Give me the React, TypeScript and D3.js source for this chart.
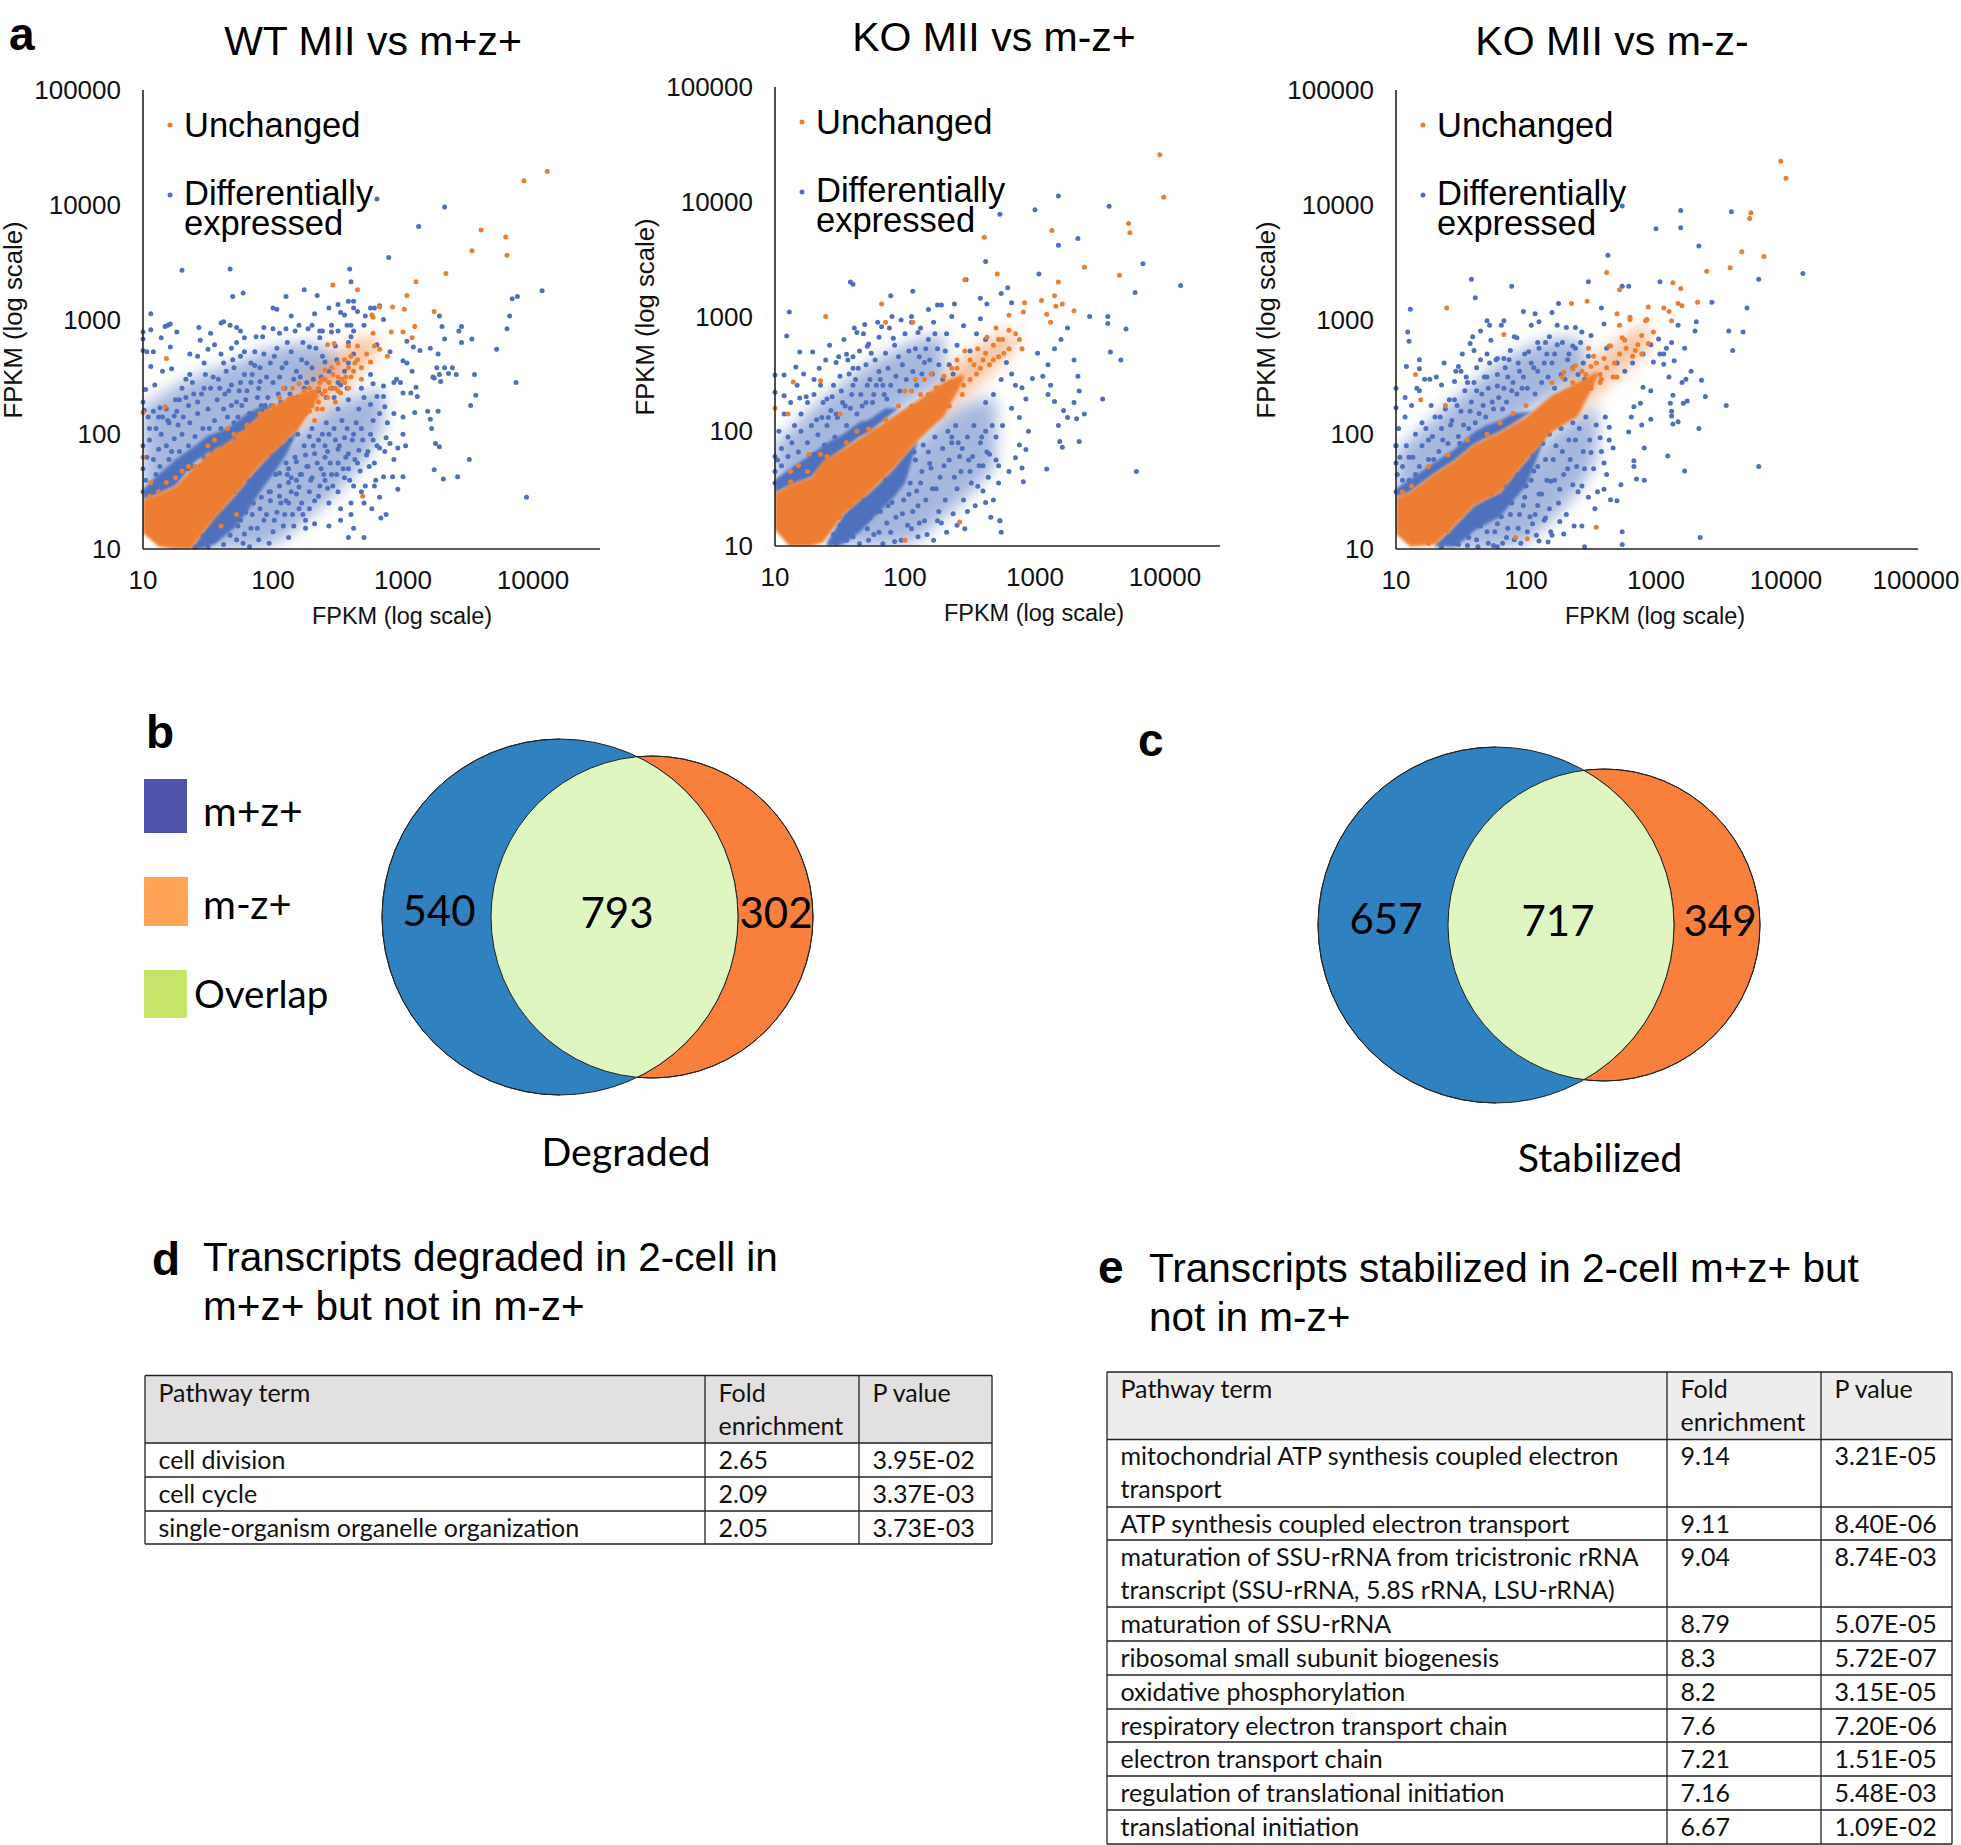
import React from "react";
import * as d3 from "d3";

// log10(FPKM) x 100, flat x,y pairs
const p1Blue = [280,405,332,398,312,381,289,354,130,343,167,344,259,344,260,333,224,326,177,323,169,320,210,320,234,321,407,325,388,320,384,318,382,303,380,292,372,274,353,283,355,252,387,245,356,234,352,225,395,145,351,178,342,163,331,161,324,169,325,192,328,189,
328,303,330,294,345,294,343,290,332,283,345,280,308,276,313,273,303,281,321,275,327,270,303,262,307,255,326,258,332,258,338,258,323,250,328,252,341,252,335,253,329,246,324,249,306,236,298,245,310,241,311,233,327,220,319,220,321,213,322,205,309,219,300,215,
271,303,275,310,278,310,282,312,285,300,262,316,258,316,262,310,243,310,252,306,265,307,270,295,257,295,245,289,238,290,230,295,236,284,228,276,260,285,248,277,262,270,280,278,290,272,300,264,258,262,275,252,285,242,295,248,268,240,277,244,285,233,293,245,300,236,270,232,275,226,280,233,282,218,286,224,293,218,288,210,277,212,266,222,258,230,250,222,
300,200,302,190,296,188,290,192,287,197,286,185,282,188,293,178,275,200,268,205,262,200,255,197,248,195,243,200,235,195,228,198,240,190,250,187,258,183,266,186,272,182,278,175,265,175,258,170,250,175,240,180,232,183,225,182,218,176,227,172,237,170,245,165,255,162,262,155,268,150,250,150,242,153,240,160,230,162,222,165,212,170,205,166,212,158,220,154,228,150,235,146,243,140,252,135,260,140,270,140,276,135,260,130,252,125,243,120,285,163,292,163,300,163,296,152,278,155,282,145,287,130,283,127,262,118,258,110,270,110,232,122,225,125,220,135,212,140,205,146,198,150,
150,102,155,108,160,115,162,104,168,120,172,108,175,125,178,113,182,102,184,130,188,118,190,135,193,125,197,105,198,142,200,115,203,132,205,155,208,120,210,142,212,110,215,130,218,148,180,140,186,150,192,160,196,168,200,175,204,182,210,175,214,162,218,160,222,140,225,118,228,135,232,142,150,115,145,105,155,122,165,130,170,138,176,148,140,102,
100,150,102,160,100,170,103,180,100,190,105,195,108,178,110,165,112,187,114,200,113,172,118,162,118,190,120,178,123,170,124,196,127,208,128,185,130,200,133,175,135,190,136,210,138,172,140,198,142,218,143,183,146,205,148,190,150,222,152,196,155,212,157,230,160,205,162,222,165,215,166,238,170,210,172,228,175,245,176,225,180,238,182,218,184,252,188,232,190,246,194,225,
112,215,118,222,125,230,130,240,135,225,138,245,145,235,148,252,152,240,158,248,162,262,168,243,170,258,175,268,178,252,183,262,186,272,190,258,193,270,198,262,203,275,205,250,210,262,214,272,218,255,222,265,226,245,230,258,237,250,240,263,245,240,250,245,
106,305,106,291,100,289,100,283,100,273,103,272,108,272,114,284,119,295,117,294,121,296,126,289,121,276,106,259,115,255,122,257,109,243,102,239,100,228,101,221,104,215,108,220,113,223,119,212,124,216,128,230,133,248,136,252,136,270,143,293,144,282,142,268,147,262,150,274,152,288,160,297,162,298,167,295,172,293,175,290,178,284,155,278,160,270,168,275,172,280,187,285,193,293,200,310,203,309,200,292,205,288,210,292,214,303,220,295,232,305,227,292,223,280,236,290,245,295,250,313,250,290,255,304,260,295,262,290,258,280,
105,205,108,150,110,205,115,215,117,145,120,210,122,185,125,165,126,220,129,175,131,215,133,232,135,170,138,180,139,235,141,160,142,228,144,172,147,180,147,240,149,170,151,205,153,185,154,250,156,195,158,180,159,240,161,190,163,235,164,255,167,200,168,225,169,265,171,195,173,215,174,238,177,205,178,272,179,230,181,210,183,245,185,215,186,260,187,205,189,240,191,225,192,285,194,215,195,250,196,232,199,225,200,245,201,268,204,235,206,228,207,258,209,240,211,280,213,235,216,248,217,290,219,232,221,250,224,240,226,262,228,232,231,248,233,275,235,238,238,268,241,232,243,255,247,232,249,265,252,243,255,255,257,240,
146,112,152,128,157,110,158,135,163,122,164,145,167,112,170,150,173,120,174,155,177,105,179,132,181,160,183,118,185,140,187,165,189,108,191,145,194,172,195,130,197,150,199,182,201,125,202,165,206,140,207,188,209,130,211,165,213,195,214,150,216,120,217,180,219,200,221,165,223,130,224,190,226,172,229,160,230,205,231,190,234,175,236,155,238,200,239,165,241,210,242,185,244,175,246,155,247,205,249,165,251,190,253,212,254,170,256,180,257,205,259,160,261,195,263,178,264,210,267,168,269,195,271,155,273,185,274,172,277,195,279,160,280,190];
const p1Orange = [411,429,393,421,360,378,379,372,353,360,380,356,333,340,310,333,246,330,265,326,303,321,292,311,301,309,282,311,276,304,277,302,324,307,309,294,300,289,291,289,277,288,307,284,247,279,242,278,282,274,278,277,288,268,258,277,265,277,275,263,269,146,118,266,117,224,100,219,
265,265,260,268,255,265,250,262,245,258,240,256,258,258,250,250,243,245,238,248,235,240,262,255,268,248,255,245,248,240,240,238,230,236,225,228,228,240,222,233,215,232,218,222,210,225,205,218,212,212,216,205,222,215,228,220,232,212,238,222,242,232,248,228,252,236,258,240,235,228,100,180,106,158,118,158,130,168,135,172,150,190,165,205,174,200,160,120,172,130,
205,232,208,240,212,230,215,240,218,210,220,244,224,238,226,222,230,225,234,222,236,245,238,235,240,248,244,240,246,252,250,238,253,248,256,250,260,250,263,262,268,258,272,270,195,220,200,225,190,218,180,208,170,200,155,195,140,172,125,162,112,150,105,146,110,115,120,105,135,105,148,125,155,135,175,155,190,180,205,192,215,205,225,218];
const p1BandX = [100,112,125,137,150,170,190,205,220,235];
const p1BandHigh = [143,148,155,169,183,196,217,228,235,240];
const p1BandLow = [114,102,100,100,120,146,173,189,205,232];
const p1CoreX = [137,145,155,170,180,190,200,210,220];
const p1CoreLow = [100,100,104,118,132,150,165,182,205];
const p1CoreHigh = [100,113,128,146,160,173,185,195,205];
const p1UpperX = [100,110,125,140,150,165,180,190,200];
const p1UpperLow = [143,147,155,176,183,191,205,215,225];
const p1UpperHigh = [152,163,178,190,199,205,218,224,225];
const p1WashUpX = [100,115,130,150,170,190,210,230,250];
const p1WashUpLow = [143,150,160,183,195,215,228,240,255];
const p1WashUpHigh = [225,235,245,255,262,272,278,280,270];
const p1WashDownX = [140,150,170,190,210,230,250,270,285];
const p1WashDownLow = [100,100,100,100,110,130,150,175,205];
const p1WashDownHigh = [100,120,146,173,195,212,228,235,240];
const p1WashOrangeX = [215,240,260,280];
const p1WashOrangeLow = [205,225,245,270];
const p1WashOrangeHigh = [235,262,280,288];

const p2Blue = [318,405,357,396,300,393,273,389,333,368,318,362,262,348,303,337,383,346,412,327,377,321,247,332,158,330,160,328,279,325,274,320,206,322,189,318,258,316,238,311,225,310,263,311,282,312,111,304,109,283,342,300,356,300,356,294,370,289,358,269,366,262,352,228,334,235,338,215,332,211,334,191,319,191,321,186,378,165,309,167,274,112,273,122,293,184,288,188,285,177,290,168,291,156,
100,155,100,165,102,175,105,185,108,160,110,178,113,190,116,168,118,182,120,200,122,172,125,190,128,205,130,180,133,197,136,212,138,188,140,205,143,218,146,195,148,212,152,225,155,205,158,220,160,240,163,215,166,232,170,225,173,245,176,232,180,252,183,240,186,228,100,234,100,249,107,249,107,231,119,229,124,230,119,269,129,269,116,256,
130,232,135,240,140,228,145,240,150,248,156,262,160,255,165,270,170,258,172,276,177,262,180,282,185,268,188,290,192,275,195,265,200,285,205,300,208,272,212,290,215,260,218,280,222,295,225,272,228,310,232,285,236,300,240,275,245,292,250,270,255,285,258,298,262,280,147,260,155,267,160,265,163,286,169,293,171,274,182,291,191,281,197,297,205,295,210,286,218,306,
262,225,268,232,274,245,278,260,282,250,285,240,290,238,293,228,298,246,302,268,310,258,315,272,320,280,325,290,330,262,333,248,310,232,315,226,322,218,325,212,330,225,318,205,312,240,306,248,295,200,288,212,282,220,275,205,270,195,262,200,258,190,265,180,272,170,280,165,272,155,260,170,252,178,244,185,236,195,
145,110,150,118,155,105,158,128,162,115,166,135,170,122,172,105,175,142,178,130,180,112,184,150,186,120,190,138,192,104,195,155,198,128,200,165,203,145,205,115,208,175,210,135,212,155,215,122,218,182,220,168,224,150,226,130,230,170,232,112,236,190,238,160,242,178,245,140,250,165,256,152,262,138,266,125,273,122,248,130,240,118,228,120,222,105,210,108,
100,178,103,200,105,170,107,215,110,195,112,225,115,205,117,240,120,215,122,250,125,225,127,178,130,245,132,210,134,255,137,225,139,262,141,212,142,275,144,230,147,215,149,265,151,235,153,280,154,222,157,250,159,232,161,290,162,245,164,255,167,222,168,285,171,240,174,268,175,225,178,240,179,295,181,245,184,232,187,255,189,240,190,300,193,248,196,235,198,258,201,245,203,270,206,252,209,240,211,265,213,250,216,272,219,262,221,250,223,285,226,258,229,245,231,270,234,258,237,250,
147,102,152,112,157,120,160,108,163,128,165,102,168,140,171,115,173,125,176,110,179,145,181,130,183,102,185,158,187,135,189,112,191,148,193,125,196,162,197,105,199,140,201,172,202,118,204,155,206,130,207,182,209,148,211,120,213,165,214,188,216,140,217,110,219,172,221,150,223,195,225,122,227,160,229,185,231,140,233,200,234,175,237,128,239,205,240,150,241,190,243,165,246,115,248,195,249,175,251,155,253,205,254,135,257,170,259,195,260,148,263,182,264,160,267,205,268,140,270,175];
const p2Orange = [396,441,399,404,372,381,373,373,313,375,261,369,338,343,365,336,271,337,246,332,318,330,315,318,305,314,321,311,292,312,316,309,330,305,280,301,291,304,309,302,312,295,182,311,185,295,139,300,206,295,114,243,135,244,100,220,110,215,242,121,200,105,
240,255,250,262,255,250,245,240,235,242,230,235,262,268,268,275,272,265,265,258,258,255,275,280,280,272,270,290,285,285,288,280,290,272,225,230,218,232,212,218,205,222,112,165,118,170,126,180,135,180,150,215,163,200,175,190,
205,235,208,245,212,232,215,245,218,220,220,250,224,238,226,225,230,248,234,222,236,255,238,238,240,262,244,232,246,270,250,245,253,258,256,272,260,262,263,282,268,262,272,280,276,268,280,288,195,222,200,235,185,210,172,202,155,190,140,178,125,165,112,156,110,112,120,104,135,108,150,125,158,135,175,155,190,172,205,195,215,205,225,222];
const p2BandX = [100,111,128,137,153,172,191,210,230,245];
const p2BandHigh = [146,153,160,174,185,199,213,227,243,250];
const p2BandLow = [114,100,100,103,128,146,167,192,213,245];
const p2CoreX = [140,148,153,165,172,185,191,200,210];
const p2CoreLow = [100,100,102,112,120,135,142,155,192];
const p2CoreHigh = [103,118,128,140,146,160,167,180,192];
const p2UpperX = [100,110,128,140,153,165,172,185,195];
const p2UpperLow = [146,152,160,174,185,195,199,211,220];
const p2UpperHigh = [158,166,180,190,198,208,210,220,220];
const p2WashUpX = [100,115,130,150,170,190,210,230];
const p2WashUpLow = [146,153,162,185,199,213,228,243];
const p2WashUpHigh = [190,205,222,240,258,270,280,285];
const p2WashDownX = [140,153,172,191,210,230,250,270];
const p2WashDownLow = [100,100,100,100,105,125,145,170];
const p2WashDownHigh = [103,128,146,167,192,213,225,230];
const p2WashOrangeX = [225,245,265,285];
const p2WashOrangeLow = [210,230,250,272];
const p2WashOrangeHigh = [240,265,280,290];

const p3Blue = [274,399,319,395,358,394,319,380,300,379,333,364,263,356,413,340,379,335,158,335,248,333,303,333,189,329,274,329,279,329,161,319,343,315,370,310,111,309,109,289,110,281,356,290,367,289,359,273,354,225,338,233,335,247,333,205,309,181,322,168,379,172,334,110,274,104,245,102,274,115,100,223,100,190,
100,150,101,165,103,180,100,190,105,172,108,190,110,160,113,180,115,200,118,172,120,190,123,205,125,178,128,198,130,215,133,185,135,205,138,222,140,192,143,212,145,230,148,198,150,220,153,238,156,205,158,228,160,245,164,218,166,235,170,250,174,228,178,242,182,222,186,250,
100,240,107,232,118,238,126,248,135,243,145,246,108,259,118,265,118,257,148,259,157,279,160,273,165,290,170,299,172,295,183,299,170,270,178,266,183,266,188,273,193,284,198,307,207,305,204,295,210,298,220,306,225,314,224,295,231,293,238,293,243,289,250,286,258,310,260,296,
150,255,155,245,162,258,168,250,172,262,178,252,184,258,190,245,194,262,198,250,202,272,206,258,210,275,214,262,218,285,222,270,228,280,232,265,238,275,244,262,209,280,216,270,236,277,
262,275,270,262,276,255,282,262,290,270,296,278,302,283,306,270,312,280,317,295,331,298,330,290,322,275,308,275,303,270,298,263,306,261,314,264,310,250,320,245,327,255,323,248,313,234,311,227,321,227,324,229,312,220,312,216,313,209,317,211,296,238,290,241,288,227,283,224,281,215,296,213,289,208,291,188,283,177,283,172,285,161,291,160,273,156,270,142,265,143,260,152,253,135,243,120,226,124,229,113,219,115,217,106,210,107,279,202,264,206,257,197,267,188,250,184,260,175,245,170,236,156,226,152,219,159,209,138,205,122,215,127,
145,105,150,112,155,103,158,120,162,108,166,128,170,115,172,135,175,103,178,122,182,140,185,110,188,130,190,148,194,118,196,105,198,138,200,155,203,128,206,168,208,112,212,148,215,178,218,135,222,160,228,185,232,170,238,195,240,150,178,102,182,105,
100,175,102,205,105,160,107,215,110,180,112,225,115,165,116,240,120,210,122,248,125,195,127,225,129,178,131,250,134,215,136,195,137,262,141,230,142,208,146,255,147,225,149,192,151,270,152,208,154,250,157,220,159,285,161,210,162,238,165,265,167,225,169,215,171,240,173,282,175,222,177,265,179,232,181,295,183,240,185,228,187,265,189,238,191,285,193,235,195,255,197,240,199,270,201,240,204,262,207,235,209,255,212,245,215,280,217,250,220,262,222,240,224,278,227,252,230,248,233,270,236,258,240,252,242,280,245,248,248,268,
135,102,140,110,148,104,152,120,156,110,160,128,163,102,165,120,168,135,171,105,173,148,176,115,179,145,181,128,184,155,186,118,189,140,191,108,193,165,195,130,197,178,199,145,201,115,204,160,205,182,207,130,209,172,210,148,213,192,214,125,216,160,218,200,220,112,221,178,223,190,225,140,227,205,229,165,231,130,233,195,234,178,236,210,237,120,239,172,241,205,243,155,244,185,246,215,248,145,249,195,252,170,254,208,255,150,258,185,261,215,262,165,264,195];
const p3Orange = [396,438,400,423,373,393,372,388,366,359,383,355,357,345,339,342,262,341,313,332,319,327,272,326,235,314,247,316,139,310,332,315,317,314,320,312,294,311,306,310,310,307,270,305,280,302,292,299,312,299,183,287,115,252,119,230,138,225,254,119,201,109,192,110,
229,254,236,257,243,255,250,259,257,252,267,250,260,266,248,275,252,268,264,277,274,284,277,275,284,273,289,270,294,279,298,289,289,286,280,300,293,300,270,250,265,277,272,295,246,238,236,238,226,223,229,216,240,223,219,216,257,245,250,243,
215,222,220,245,224,232,228,250,232,235,236,245,238,260,242,240,246,252,250,240,254,262,258,248,262,258,268,262,272,270,276,282,282,268,286,278,200,225,190,218,180,210,170,200,155,195,140,182,125,172,112,155,105,150,115,110,125,105,140,115,150,130,165,145,180,155,195,175,210,195,225,210,235,222];
const p3BandX = [100,111,130,145,160,180,200,220,240,255];
const p3BandHigh = [145,150,166,177,191,202,215,234,245,255];
const p3BandLow = [113,102,104,120,138,149,177,202,216,250];
const p3CoreX = [130,140,145,155,160,170,180,190,200,215];
const p3CoreLow = [102,102,102,110,116,122,128,142,155,198];
const p3CoreHigh = [104,114,120,132,138,144,149,164,177,198];
const p3UpperX = [100,110,130,145,160,170,180,190,205];
const p3UpperLow = [145,149,166,177,191,197,202,209,220];
const p3UpperHigh = [153,160,176,187,202,208,212,218,220];
const p3WashUpX = [100,115,130,150,170,190,210,230,245];
const p3WashUpLow = [145,152,166,180,197,210,225,240,250];
const p3WashUpHigh = [185,200,215,235,255,270,280,285,280];
const p3WashDownX = [130,145,160,180,200,220,240,255];
const p3WashDownLow = [102,100,100,100,105,125,150,180];
const p3WashDownHigh = [104,120,138,149,177,202,216,225];
const p3WashOrangeX = [235,255,275,295];
const p3WashOrangeLow = [215,235,255,275];
const p3WashOrangeHigh = [248,268,285,298];

const panelTitles = ["WT MII vs m+z+", "KO MII vs m-z+", "KO MII vs m-z-"];
const yTicks = [10, 100, 1000, 10000, 100000];
const xTicks3 = [10, 100, 1000, 10000];
const xTicks4 = [10, 100, 1000, 10000, 100000];
const axisLabel = "FPKM (log scale)";

const vennB = [540, 793, 302];
const vennC = [657, 717, 349];
const legendItems = ["m+z+", "m-z+", "Overlap"];

const headerD = ["Pathway term", "Fold|enrichment", "P value"];
const termsD = ["cell division", "cell cycle", "single-organism organelle organization"];
const foldD = ["2.65", "2.09", "2.05"];
const pvalD = ["3.95E-02", "3.37E-03", "3.73E-03"];
const termsE = [
  "mitochondrial ATP synthesis coupled electron|transport",
  "ATP synthesis coupled electron transport",
  "maturation of SSU-rRNA from tricistronic rRNA|transcript (SSU-rRNA, 5.8S rRNA, LSU-rRNA)",
  "maturation of SSU-rRNA",
  "ribosomal small subunit biogenesis",
  "oxidative phosphorylation",
  "respiratory electron transport chain",
  "electron transport chain",
  "regulation of translational initiation",
  "translational initiation",
];
const foldE = ["9.14", "9.11", "9.04", "8.79", "8.3", "8.2", "7.6", "7.21", "7.16", "6.67"];
const pvalE = ["3.21E-05", "8.40E-06", "8.74E-03", "5.07E-05", "5.72E-07", "3.15E-05", "7.20E-06", "1.51E-05", "5.48E-03", "1.09E-02"];

const ARIAL = "'Liberation Sans', Arial, sans-serif";
const LATO = "Lato, sans-serif";
const BLUE = "#4f71bd";
const ORANGE = "#ed7d31";

const pairs = (a: number[]) => d3.range(0, a.length, 2).map((i) => [Math.pow(10, a[i] / 100), Math.pow(10, a[i + 1] / 100)]);
const exp = (v: number) => Math.pow(10, v / 100);

function Scatter({ id, title, dx, dy, titleCx, titleY, xMaxPx, xTicks, blue, orange, band, core, upper, washUp, washDown, washOrange }: any) {
  const x = d3.scaleLog().domain([10, 10000]).range([143 + dx, 533 + dx]);
  const y = d3.scaleLog().domain([10, 100000]).range([549 + dy, 90 + dy]);
  const area = (set: number[][]) => {
    const [xs, lo, hi] = set;
    const g = d3.area<number>().x((_, i) => x(exp(xs[i]))).y0((_, i) => y(exp(lo[i]))).y1((_, i) => y(exp(hi[i])));
    return g(xs) as string;
  };
  return (
    <g>
      <defs>
        <clipPath id={id}><rect x={x(10)} y={y(100000)} width={xMaxPx - x(10)} height={y(10) - y(100000)} /></clipPath>
      </defs>
      <text x={titleCx} y={titleY} textAnchor="middle" fontFamily={ARIAL} fontSize={41}>{title}</text>
      <g clipPath={`url(#${id})`}>
        <path d={area(washUp)} fill={BLUE} opacity={0.5} filter="url(#soft)" />
        <path d={area(washDown)} fill={BLUE} opacity={0.5} filter="url(#soft)" />
        <path d={area(washOrange)} fill={ORANGE} opacity={0.45} filter="url(#soft)" />
      </g>
      <g>{pairs(blue).map((p, i) => <circle key={i} cx={x(p[0])} cy={y(p[1])} r={2.5} fill={BLUE} />)}</g>
      <g clipPath={`url(#${id})`}>
        <path d={area(core)} fill={BLUE} filter="url(#edge)" />
        <path d={area(upper)} fill={BLUE} filter="url(#edge)" />
        <path d={area(band)} fill={ORANGE} filter="url(#edge)" />
      </g>
      <g>{pairs(orange).map((p, i) => <circle key={i} cx={x(p[0])} cy={y(p[1])} r={2.5} fill={ORANGE} />)}</g>
      <line x1={x(10)} x2={x(10)} y1={y(100000)} y2={y(10)} stroke="#222" strokeWidth={1.6} />
      <line x1={x(10)} x2={xMaxPx} y1={y(10)} y2={y(10)} stroke="#222" strokeWidth={1.6} />
      {yTicks.map((t) => <text key={t} x={x(10) - 22} y={y(t) + 9} textAnchor="end" fontFamily={ARIAL} fontSize={26} fill="#111">{t}</text>)}
      {xTicks.map((t: number) => <text key={t} x={x(t)} y={589 + dy} textAnchor="middle" fontFamily={ARIAL} fontSize={26} fill="#111">{t}</text>)}
      <text x={402 + dx} y={624 + dy} textAnchor="middle" fontFamily={ARIAL} fontSize={23.5} fill="#111">{axisLabel}</text>
      <text transform={`translate(${22 + dx},${320 + dy}) rotate(-90)`} textAnchor="middle" fontFamily={ARIAL} fontSize={25.7} fill="#111">{axisLabel}</text>
      <circle cx={170 + dx} cy={125 + dy} r={2.5} fill={ORANGE} />
      <text x={184 + dx} y={137 + dy} fontFamily={ARIAL} fontSize={34.5}>Unchanged</text>
      <circle cx={170 + dx} cy={195 + dy} r={2.5} fill={BLUE} />
      <text x={184 + dx} y={205 + dy} fontFamily={ARIAL} fontSize={34.5}>Differentially</text>
      <text x={184 + dx} y={235 + dy} fontFamily={ARIAL} fontSize={34.5}>expressed</text>
    </g>
  );
}

function Venn({ id, c1, c2, r1, r2, values, vx, vy, name, nx, ny }: any) {
  return (
    <g>
      <defs><clipPath id={id}><circle cx={c2} cy={vy - 9} r={r2} /></clipPath></defs>
      <circle cx={c2} cy={vy - 9} r={r2} fill="#f97f3c" stroke="#222" strokeWidth={1} />
      <circle cx={c1} cy={vy - 9} r={r1} fill="#2f82bf" stroke="#222" strokeWidth={1} />
      <circle cx={c1} cy={vy - 9} r={r1} fill="#e0f6c0" stroke="#222" strokeWidth={1} clipPath={`url(#${id})`} />
      <circle cx={c2} cy={vy - 9} r={r2} fill="none" stroke="#222" strokeWidth={1} />
      <path d={`M${c1},${vy - 9 - r1}A${r1},${r1} 0 1 0 ${c1},${vy - 9 + r1}`} fill="none" stroke="#222" strokeWidth={1} />
      {values.map((v: number, i: number) => (
        <text key={i} x={vx[i]} y={vy + (i === 0 ? 0 : 2)} textAnchor="middle" fontFamily={LATO} fontSize={42} fill="#000">{v}</text>
      ))}
      <text x={nx} y={ny} textAnchor="middle" fontFamily={LATO} fontSize={39.3} fill="#000">{name}</text>
    </g>
  );
}

function Table({ colX, rowY, headBg, header, terms, fold, pval }: any) {
  const rows = terms.map((t: string, i: number) => ({ lines: t.split("|"), f: fold[i], p: pval[i] }));
  const cell = (s: string, x: number, y: number, k: string) => (
    <text key={k} x={x} y={y} fontFamily={LATO} fontSize={25} fill="#111">{s}</text>
  );
  return (
    <g>
      <rect x={colX[0]} y={rowY[0]} width={colX[3] - colX[0]} height={rowY[1] - rowY[0]} fill={headBg} />
      {header.map((h: string, c: number) => h.split("|").map((l: string, j: number) => cell(l, colX[c] + 13.5, rowY[0] + 26 + j * 33, `h${c}${j}`)))}
      {rows.map((r: any, i: number) => (
        <g key={i}>
          {r.lines.map((l: string, j: number) => cell(l, colX[0] + 13.5, rowY[i + 1] + 25.5 + j * 33, `t${j}`))}
          {cell(r.f, colX[1] + 13.5, rowY[i + 1] + 25.5, "f")}
          {cell(r.p, colX[2] + 13.5, rowY[i + 1] + 25.5, "p")}
        </g>
      ))}
      {rowY.map((y: number, i: number) => <line key={i} x1={colX[0]} x2={colX[3]} y1={y} y2={y} stroke="#222" strokeWidth={1.6} />)}
      {colX.map((x: number, i: number) => <line key={i} x1={x} x2={x} y1={rowY[0]} y2={rowY[rowY.length - 1]} stroke="#222" strokeWidth={1.3} />)}
    </g>
  );
}

const Letter = ({ x, y, s }: any) => <text x={x} y={y} fontFamily={ARIAL} fontWeight="bold" fontSize={46} fill="#000">{s}</text>;
const Heading = ({ x, y, s }: any) => <text x={x} y={y} fontFamily={ARIAL} fontSize={40.5} fill="#000">{s}</text>;

export default function App() {
  return (
    <svg width={1961} height={1845} style={{ position: "absolute", left: 0, top: 0, background: "#fff" }}>
      <defs>
        <filter id="soft" x="-30%" y="-30%" width="160%" height="160%"><feGaussianBlur stdDeviation={8} /></filter>
        <filter id="edge" x="-10%" y="-10%" width="120%" height="120%"><feGaussianBlur stdDeviation={1.4} /></filter>
      </defs>
      <Letter x={9} y={50} s="a" />
      <Scatter id="cp1" title={panelTitles[0]} dx={0} dy={0} titleCx={373} titleY={55} xMaxPx={600} xTicks={xTicks3}
        blue={p1Blue} orange={p1Orange} band={[p1BandX, p1BandLow, p1BandHigh]} core={[p1CoreX, p1CoreLow, p1CoreHigh]} upper={[p1UpperX, p1UpperLow, p1UpperHigh]}
        washUp={[p1WashUpX, p1WashUpLow, p1WashUpHigh]} washDown={[p1WashDownX, p1WashDownLow, p1WashDownHigh]} washOrange={[p1WashOrangeX, p1WashOrangeLow, p1WashOrangeHigh]} />
      <Scatter id="cp2" title={panelTitles[1]} dx={632} dy={-3} titleCx={994} titleY={51} xMaxPx={1220} xTicks={xTicks3}
        blue={p2Blue} orange={p2Orange} band={[p2BandX, p2BandLow, p2BandHigh]} core={[p2CoreX, p2CoreLow, p2CoreHigh]} upper={[p2UpperX, p2UpperLow, p2UpperHigh]}
        washUp={[p2WashUpX, p2WashUpLow, p2WashUpHigh]} washDown={[p2WashDownX, p2WashDownLow, p2WashDownHigh]} washOrange={[p2WashOrangeX, p2WashOrangeLow, p2WashOrangeHigh]} />
      <Scatter id="cp3" title={panelTitles[2]} dx={1253} dy={0} titleCx={1612} titleY={55} xMaxPx={1918} xTicks={xTicks4}
        blue={p3Blue} orange={p3Orange} band={[p3BandX, p3BandLow, p3BandHigh]} core={[p3CoreX, p3CoreLow, p3CoreHigh]} upper={[p3UpperX, p3UpperLow, p3UpperHigh]}
        washUp={[p3WashUpX, p3WashUpLow, p3WashUpHigh]} washDown={[p3WashDownX, p3WashDownLow, p3WashDownHigh]} washOrange={[p3WashOrangeX, p3WashOrangeLow, p3WashOrangeHigh]} />

      <Letter x={146} y={748} s="b" />
      <rect x={144} y={779} width={43} height={54} fill="#4f52aa" />
      <rect x={144} y={877} width={44} height={49} fill="#ffa556" />
      <rect x={144} y={970} width={43} height={48} fill="#c6e56a" />
      <text x={203} y={826} fontFamily={LATO} fontSize={41}>{legendItems[0]}</text>
      <text x={203} y={919} fontFamily={LATO} fontSize={40}>{legendItems[1]}</text>
      <text x={194} y={1008} fontFamily={LATO} fontSize={38.5}>{legendItems[2]}</text>
      <Venn id="vb" c1={560} c2={652} r1={178} r2={161} values={vennB} vx={[439, 617, 776]} vy={926} name="Degraded" nx={626} ny={1166} />

      <Letter x={1138} y={756} s="c" />
      <Venn id="vc" c1={1496} c2={1604} r1={178} r2={156} values={vennC} vx={[1386, 1558, 1720]} vy={934} name="Stabilized" nx={1600} ny={1172} />

      <Letter x={152} y={1275} s="d" />
      <Heading x={203} y={1271} s="Transcripts degraded in 2-cell in" />
      <Heading x={203} y={1320} s="m+z+ but not in m-z+" />
      <Table colX={[145, 705, 859, 992]} rowY={[1375.5, 1443, 1477, 1511, 1544]} headBg="#e2e0e1" header={headerD} terms={termsD} fold={foldD} pval={pvalD} />

      <Letter x={1098} y={1283} s="e" />
      <Heading x={1149} y={1282} s="Transcripts stabilized in 2-cell m+z+ but" />
      <Heading x={1149} y={1331} s="not in m-z+" />
      <Table colX={[1107, 1667, 1821, 1952]} rowY={[1372, 1439.5, 1507, 1540, 1607, 1641, 1675, 1709, 1742, 1776, 1810, 1844]} headBg="#ededed" header={headerD} terms={termsE} fold={foldE} pval={pvalE} />
    </svg>
  );
}
